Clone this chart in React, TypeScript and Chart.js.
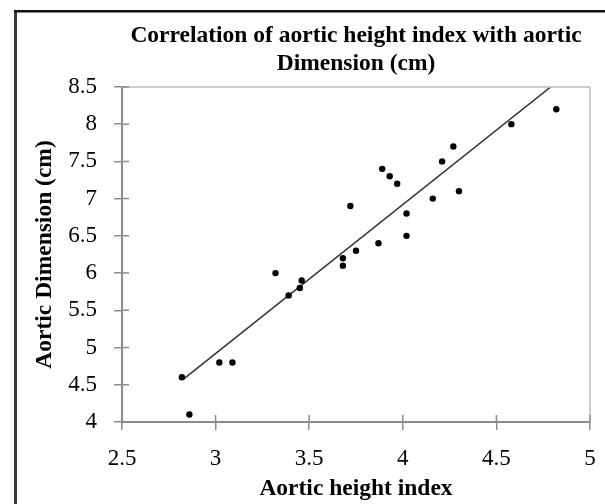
import React, { useEffect, useRef } from "react";
import { Chart, registerables } from "chart.js";

Chart.register(...registerables);

const titleLines = ["Correlation of aortic height index with aortic", "Dimension (cm)"];
const xAxisTitle = "Aortic height index";
const yAxisTitle = "Aortic Dimension (cm)";

const heightIndex = [2.82, 2.86, 3.02, 3.09, 3.32, 3.39, 3.45, 3.46, 3.68, 3.68, 3.72, 3.75, 3.87, 3.89, 3.93, 3.97, 4.02, 4.02, 4.16, 4.21, 4.27, 4.30, 4.58, 4.82];
const aorticDim = [4.6, 4.1, 4.8, 4.8, 6.0, 5.7, 5.8, 5.9, 6.1, 6.2, 6.9, 6.3, 6.4, 7.4, 7.3, 7.2, 6.5, 6.8, 7.0, 7.5, 7.7, 7.1, 8.0, 8.2];

const trendX = [2.83, 4.79];
const trendY = [4.58, 8.5];

const xMin = 2.5, xMax = 5, xStep = 0.5;
const yMin = 4, yMax = 8.5, yStep = 0.5;

const SERIF = "'Liberation Serif', 'Times New Roman', serif";
const AXIS_GRAY = "#8c8c8c";

const fmt = (v: any) => String(Math.round(Number(v) * 10) / 10);

const decorPlugin = {
  id: "decor",
  afterDraw(chart: any) {
    const { ctx, chartArea } = chart;
    const { left, right, top, bottom } = chartArea;
    ctx.save();
    // plot top & right border
    ctx.strokeStyle = "#bdbdbd";
    ctx.lineWidth = 1.5;
    ctx.beginPath();
    ctx.moveTo(left, top);
    ctx.lineTo(right, top);
    ctx.moveTo(right, top);
    ctx.lineTo(right, bottom);
    ctx.stroke();
    // inner part of crossing tick marks
    ctx.strokeStyle = AXIS_GRAY;
    ctx.lineWidth = 1.5;
    ctx.beginPath();
    const xs = chart.scales.x;
    xs.ticks.forEach((t: any) => {
      const px = xs.getPixelForValue(t.value);
      ctx.moveTo(px, bottom);
      ctx.lineTo(px, bottom - 7);
    });
    const ys = chart.scales.y;
    ys.ticks.forEach((t: any) => {
      const py = ys.getPixelForValue(t.value);
      ctx.moveTo(left, py);
      ctx.lineTo(left + 7, py);
    });
    ctx.stroke();
    // outer frame (left and top)
    ctx.strokeStyle = "#3a3a3a";
    ctx.lineWidth = 3;
    ctx.beginPath();
    ctx.moveTo(15.5, 11);
    ctx.lineTo(15.5, 504);
    ctx.stroke();
    ctx.strokeStyle = "#111";
    ctx.lineWidth = 2.5;
    ctx.beginPath();
    ctx.moveTo(14, 11.3);
    ctx.lineTo(605, 11.3);
    ctx.stroke();
    ctx.restore();
  },
};

const bgPlugin = {
  id: "bg",
  beforeDraw(chart: any) {
    const { ctx, width, height } = chart;
    ctx.save();
    ctx.fillStyle = "#ffffff";
    ctx.fillRect(0, 0, width, height);
    ctx.restore();
  },
};

export default function App() {
  const ref = useRef<HTMLCanvasElement | null>(null);

  useEffect(() => {
    if (!ref.current) return;
    const points = heightIndex.map((x, i) => ({ x, y: aorticDim[i] }));
    const trend = trendX.map((x, i) => ({ x, y: trendY[i] }));
    const chart = new Chart(ref.current, {
      type: "scatter",
      data: {
        datasets: [
          {
            type: "line" as any,
            data: trend,
            borderColor: "#333333",
            borderWidth: 1.5,
            pointRadius: 0,
            fill: false,
            order: 2,
          } as any,
          {
            data: points,
            backgroundColor: "#000000",
            borderColor: "#000000",
            borderWidth: 0,
            pointRadius: 3.2,
            order: 1,
          },
        ],
      },
      options: {
        responsive: false,
        animation: false,
        devicePixelRatio: 1,
        layout: { padding: { left: 17, top: 0, right: 15, bottom: 0 } },
        plugins: {
          legend: { display: false },
          tooltip: { enabled: false },
          title: {
            display: true,
            text: titleLines,
            fullSize: false,
            color: "#000000",
            font: { family: SERIF, size: 23.5, weight: "bold", lineHeight: 1.19 },
            padding: { top: 22, bottom: 9 },
          },
        },
        scales: {
          x: {
            type: "linear",
            min: xMin,
            max: xMax,
            afterFit: (s: any) => {
              s.height = 82;
              s.paddingLeft = 0;
              s.paddingRight = 0;
            },
            ticks: {
              stepSize: xStep,
              color: "#000000",
              font: { family: SERIF, size: 23, lineHeight: 1.2 },
              padding: 15,
              maxRotation: 0,
              callback: fmt,
            },
            grid: {
              display: true,
              drawOnChartArea: false,
              drawTicks: true,
              tickLength: 8,
              color: AXIS_GRAY,
              lineWidth: 1.5,
            },
            border: { display: true, color: AXIS_GRAY, width: 2 },
            title: {
              display: true,
              text: xAxisTitle,
              color: "#000000",
              font: { family: SERIF, size: 23.5, weight: "bold", lineHeight: 1.2 },
              padding: { top: 0, bottom: 1 },
            },
          },
          y: {
            type: "linear",
            min: yMin,
            max: yMax,
            afterFit: (s: any) => {
              s.width = 105;
              s.paddingTop = 0;
              s.paddingBottom = 0;
            },
            ticks: {
              stepSize: yStep,
              color: "#000000",
              font: { family: SERIF, size: 23, lineHeight: 1.2 },
              padding: 17,
              callback: fmt,
            },
            grid: {
              display: true,
              drawOnChartArea: false,
              drawTicks: true,
              tickLength: 8,
              color: AXIS_GRAY,
              lineWidth: 1.5,
            },
            border: { display: true, color: AXIS_GRAY, width: 2 },
            title: {
              display: true,
              text: yAxisTitle,
              color: "#000000",
              font: { family: SERIF, size: 23.5, weight: "bold", lineHeight: 1.2 },
              padding: { top: 14, bottom: 0 },
            },
          },
        },
      },
      plugins: [bgPlugin, decorPlugin],
    });
    return () => chart.destroy();
  }, []);

  return (
    <div style={{ position: "fixed", left: 0, top: 0, width: 605, height: 504, background: "#fff" }}>
      <canvas ref={ref} width={605} height={504} style={{ width: 605, height: 504, display: "block" }} />
    </div>
  );
}
